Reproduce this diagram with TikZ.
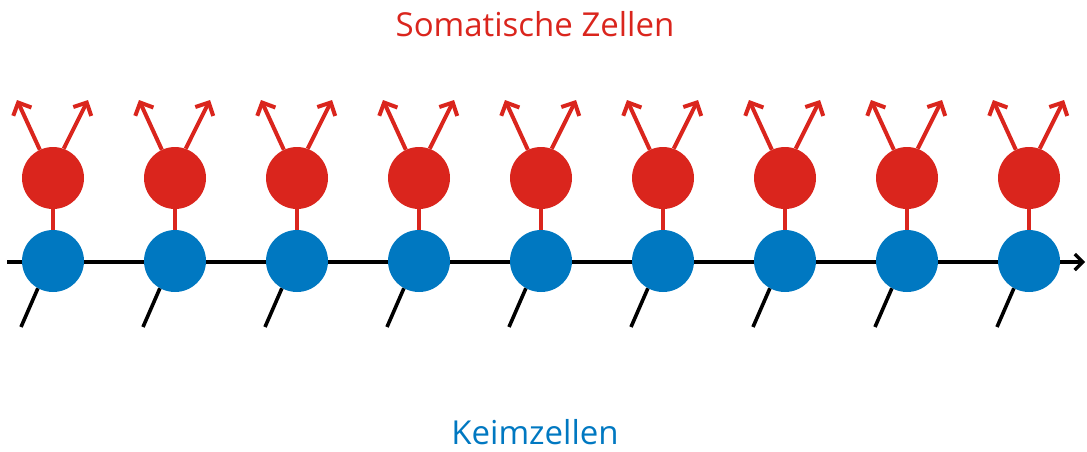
\documentclass[tikz,border=0pt]{standalone}
\usepackage{fontspec}
\setmainfont{Open Sans}
\usetikzlibrary{arrows.meta}
\definecolor{somared}{HTML}{DA251D}
\definecolor{germblue}{HTML}{0078C1}
\begin{document}
\begin{tikzpicture}[x=1pt,y=-1pt,
  soma/.style={circle,fill=somared,minimum size=62pt,inner sep=0pt},
  germ/.style={circle,fill=germblue,minimum size=62pt,inner sep=0pt},
  link/.style={draw=somared,line width=4pt},
  branch/.style={draw=somared,line width=4pt,-{Straight Barb[length=10pt,width=20pt,line width=4pt]}},
  lineage/.style={draw=black,line width=3.6pt},
  title/.style={font=\fontsize{33}{40}\selectfont}]
\useasboundingbox (0,0) rectangle (1087,451);
% time axis of the germ line
\coordinate (axstart) at (7,262);
\coordinate (axend) at (1085,262);
\draw[lineage,-{Straight Barb[length=8pt,width=16pt,line width=3.2pt]}] (axstart) -- (axend);
\foreach \i in {0,...,8}{
  \pgfmathsetmacro{\cx}{53+122*\i}
  \node[germ] (b\i) at (\cx,261) {};
  \node[soma] (r\i) at (\cx,178) {};
  \draw[link] (r\i.south) -- (b\i.north);
  \coordinate (tl\i) at (\cx-36,100);
  \coordinate (tr\i) at (\cx+35,100);
  \draw[branch] (r\i.115) -- (tl\i);
  \draw[branch] (r\i.70) -- (tr\i);
  \coordinate (tail\i) at (\cx-32,327);
  \draw[lineage] (b\i.241) -- (tail\i);
}
\node[title,text=somared] (soma) at (535,24) {Somatische Zellen};
\node[title,text=germblue] (germ) at (535,432) {Keimzellen};
\end{tikzpicture}
\end{document}
